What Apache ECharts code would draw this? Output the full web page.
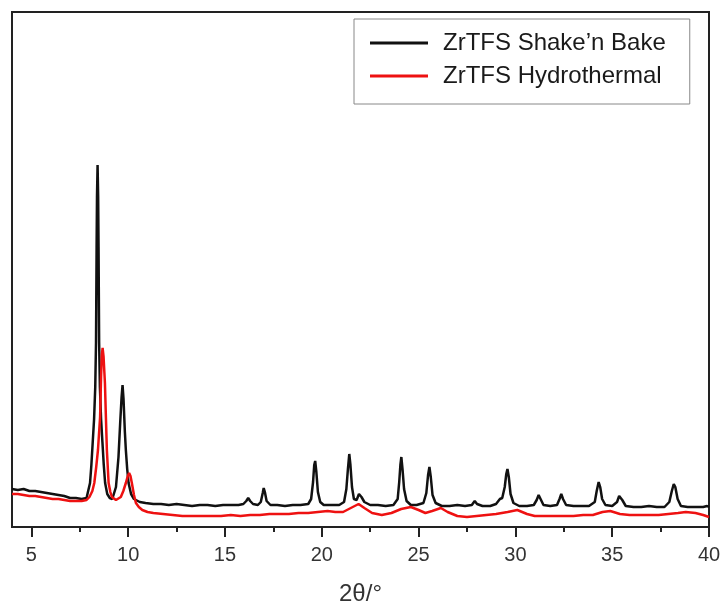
<!DOCTYPE html>
<html>
<head>
<meta charset="utf-8">
<script src="https://cdn.jsdelivr.net/npm/echarts@6/dist/echarts.min.js"></script>
<style>html,body{margin:0;padding:0;background:#fff;}#c{width:722px;height:604px;}</style>
</head>
<body>
<div id="c"></div>
<script>
const seriesNames = ["ZrTFS Shake\u2019n Bake", "ZrTFS Hydrothermal"];
const majorTicks = [5, 10, 15, 20, 25, 30, 35, 40];
const minorTicks = [7.5, 12.5, 17.5, 22.5, 27.5, 32.5, 37.5];

const shakeBake = [[4.0,38],[4.3,37],[4.6,38],[4.9,36],[5.2,36],[5.5,35],[5.8,34],[6.1,33],[6.4,32],[6.7,31],[7.0,29],[7.3,29],[7.6,28],[7.85,29],[7.95,31],[8.03,44],[8.1,62],[8.17,85],[8.24,108],[8.3,140],[8.34,185],[8.37,280],[8.39,330],[8.42,362],[8.45,330],[8.47,280],[8.5,185],[8.54,140],[8.6,108],[8.67,85],[8.74,62],[8.81,44],[8.92,33],[9.05,29],[9.18,28],[9.28,29],[9.37,40],[9.5,70],[9.59,105],[9.66,130],[9.71,142],[9.76,128],[9.83,95],[9.88,77],[9.95,58],[10.02,44],[10.15,33],[10.3,28],[10.6,25],[10.9,24],[11.3,23],[11.7,23],[12.1,22],[12.5,23],[12.9,22],[13.3,21],[13.7,22],[14.1,22],[14.5,21],[14.9,22],[15.3,22],[15.7,22],[15.95,23],[16.1,26],[16.2,29],[16.3,26],[16.45,23],[16.7,22],[16.85,25],[16.95,34],[17.0,39],[17.06,35],[17.15,26],[17.35,22],[17.7,22],[18.1,21],[18.5,22],[18.9,22],[19.3,23],[19.45,28],[19.55,45],[19.61,62],[19.66,66],[19.72,55],[19.8,35],[19.92,25],[20.1,22],[20.5,22],[20.9,22],[21.15,25],[21.27,38],[21.35,58],[21.42,73],[21.48,62],[21.56,40],[21.66,28],[21.8,27],[21.92,33],[21.97,35],[22.05,30],[22.2,25],[22.5,22],[22.9,22],[23.3,21],[23.7,22],[23.92,28],[24.0,45],[24.06,62],[24.11,70],[24.17,58],[24.25,38],[24.38,26],[24.6,22],[24.9,22],[25.25,24],[25.4,34],[25.49,52],[25.56,60],[25.63,50],[25.72,32],[25.88,24],[26.2,21],[26.6,21],[27.0,22],[27.4,21],[27.75,22],[27.9,26],[28.02,23],[28.3,21],[28.7,21],[29.0,23],[29.2,28],[29.32,29],[29.45,40],[29.53,53],[29.59,58],[29.66,50],[29.75,33],[29.9,24],[30.2,21],[30.6,21],[30.95,22],[31.1,27],[31.2,32],[31.3,28],[31.45,22],[31.8,21],[32.15,22],[32.28,28],[32.37,33],[32.46,28],[32.62,22],[33.0,21],[33.4,21],[33.8,21],[34.1,25],[34.2,36],[34.3,45],[34.38,40],[34.48,28],[34.65,22],[35.0,21],[35.25,25],[35.36,31],[35.43,32],[35.52,27],[35.7,21],[36.1,20],[36.5,20],[36.9,21],[37.3,20],[37.7,20],[37.95,25],[38.08,36],[38.18,43],[38.26,40],[38.38,28],[38.55,21],[38.9,20],[39.3,20],[39.7,20],[39.9,21],[40.0,20]];

const hydrothermal = [[4.0,33],[4.3,33],[4.6,32],[4.9,31],[5.2,31],[5.5,30],[5.8,29],[6.1,28],[6.4,28],[6.7,27],[7.0,26],[7.3,26],[7.6,26],[7.85,27],[8.0,30],[8.15,36],[8.25,44],[8.35,60],[8.44,77],[8.55,110],[8.6,150],[8.64,172],[8.68,179],[8.73,170],[8.77,155],[8.8,144],[8.85,110],[8.9,77],[8.99,44],[9.08,35],[9.16,30],[9.37,27],[9.62,30],[9.75,36],[9.88,44],[9.98,51],[10.05,54],[10.12,51],[10.19,44],[10.3,32],[10.4,24],[10.55,20],[10.73,17],[11.0,15],[11.3,14],[11.8,13],[12.3,12],[12.8,11],[13.3,11],[13.8,11],[14.3,11],[14.8,11],[15.3,12],[15.8,11],[16.3,12],[16.8,12],[17.3,13],[17.8,13],[18.3,13],[18.8,14],[19.3,14],[19.8,15],[20.3,16],[20.7,15],[21.1,15],[21.5,19],[21.9,23],[22.2,19],[22.6,14],[23.1,12],[23.6,14],[24.1,18],[24.6,20],[25.0,17],[25.35,14],[25.7,16],[26.15,19],[26.5,15],[27.0,11],[27.5,10],[28.0,11],[28.5,12],[29.0,13],[29.6,15],[30.1,17],[30.6,13],[31.0,11],[31.5,11],[32.0,11],[32.5,11],[33.0,11],[33.5,12],[34.0,12],[34.5,15],[34.9,16],[35.4,13],[35.9,12],[36.4,12],[36.9,12],[37.4,12],[37.9,13],[38.4,14],[38.8,15],[39.3,14],[39.7,12],[40.0,10]];

const FONT = "'Liberation Sans', Arial, sans-serif";
const chart = echarts.init(document.getElementById('c'), null, {renderer: 'canvas'});
chart.setOption({
  animation: false,
  backgroundColor: '#fff',
  grid: {left: 12, right: 13, top: 12, bottom: 77, show: true, borderColor: '#222', borderWidth: 2, containLabel: false, outerBoundsMode: 'none'},
  legend: {
    orient: 'vertical', left: 354, top: 19,
    padding: [11, 24, 15, 16],
    itemGap: 7, itemWidth: 58, itemHeight: 3,
    borderColor: '#888', borderWidth: 1,
    icon: 'rect',
    textStyle: {fontFamily: FONT, fontSize: 24, color: '#1a1a1a', lineHeight: 26, padding: [0, 0, 0, 10]},
    data: seriesNames
  },
  xAxis: [{
    type: 'value', min: 4, max: 40, position: 'bottom',
    axisLine: {show: true, onZero: false, lineStyle: {color: '#222', width: 2}},
    axisTick: {show: true, inside: false, length: 10, lineStyle: {color: '#222', width: 2}, customValues: majorTicks},
    axisLabel: {fontFamily: FONT, fontSize: 20, color: '#333', margin: 18, customValues: majorTicks},
    splitLine: {show: false},
    name: '2\u03b8/\u00b0', nameLocation: 'middle', nameGap: 55,
    nameTextStyle: {fontFamily: FONT, fontSize: 24, color: '#333'}
  }, {
    type: 'value', min: 4, max: 40, position: 'bottom',
    axisLine: {show: false, onZero: false},
    axisTick: {show: true, inside: false, length: 5, lineStyle: {color: '#222', width: 2}, customValues: minorTicks},
    axisLabel: {show: false},
    splitLine: {show: false}
  }],
  yAxis: {
    type: 'value', min: 0, max: 515,
    axisLine: {show: false}, axisTick: {show: false}, axisLabel: {show: false}, splitLine: {show: false}
  },
  series: [{
    name: seriesNames[0], type: 'line', xAxisIndex: 0, data: shakeBake,
    showSymbol: false, symbol: 'none', smooth: false,
    lineStyle: {color: '#111', width: 2.5}, itemStyle: {color: '#111'}
  }, {
    name: seriesNames[1], type: 'line', xAxisIndex: 0, data: hydrothermal,
    showSymbol: false, symbol: 'none', smooth: false,
    lineStyle: {color: '#ee1111', width: 2.5}, itemStyle: {color: '#ee1111'}
  }]
});
</script>
</body>
</html>
